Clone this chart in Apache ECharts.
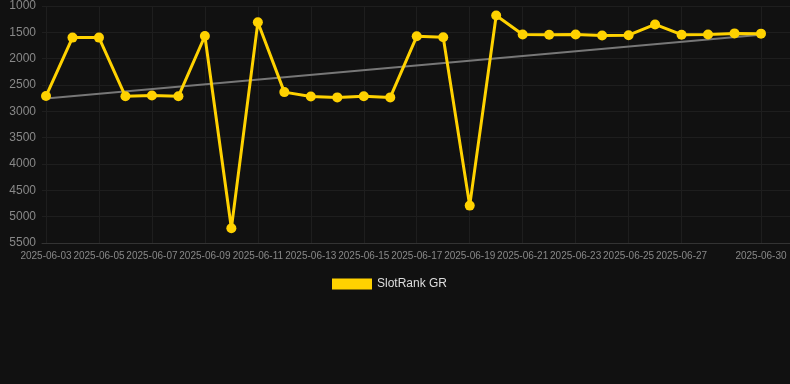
<!DOCTYPE html>
<html>
<head>
<meta charset="utf-8">
<style>
html,body{margin:0;padding:0;background:#111111;}
#chart{width:790px;height:384px;}
</style>
<script src="https://cdn.jsdelivr.net/npm/echarts@6/dist/echarts.min.js"></script>
</head>
<body>
<div id="chart"></div>
<script>
const categories = ['2025-06-03','2025-06-04','2025-06-05','2025-06-06','2025-06-07','2025-06-08','2025-06-09','2025-06-10','2025-06-11','2025-06-12','2025-06-13','2025-06-14','2025-06-15','2025-06-16','2025-06-17','2025-06-18','2025-06-19','2025-06-20','2025-06-21','2025-06-22','2025-06-23','2025-06-24','2025-06-25','2025-06-26','2025-06-27','2025-06-28','2025-06-29','2025-06-30'];
const rankValues = [2710,1600,1600,2715,2700,2715,1570,5220,1310,2635,2720,2735,2715,2735,1575,1595,4790,1180,1540,1545,1540,1560,1555,1350,1545,1540,1520,1525];
const trendDates = ['2025-06-03','2025-06-30'];
const trendValues = [2755,1545];
const xTickLabels = ['2025-06-03','2025-06-05','2025-06-07','2025-06-09','2025-06-11','2025-06-13','2025-06-15','2025-06-17','2025-06-19','2025-06-21','2025-06-23','2025-06-25','2025-06-27','2025-06-30'];
const yTicks = [1000,1500,2000,2500,3000,3500,4000,4500,5000,5500];

const labelSet = new Set(xTickLabels);
const showTick = function(idx, val){ return labelSet.has(val); };
const font = 'Arial, "Liberation Sans", sans-serif';

const chart = echarts.init(document.getElementById('chart'), null, {renderer:'canvas'});
chart.setOption({
  backgroundColor:'#111111',
  animation:false,
  grid:[
    {left:46,right:29,top:6,bottom:141,containLabel:false},
    {left:42,right:0,top:6,bottom:141,containLabel:false}
  ],
  legend:{
    data:['SlotRank GR'],
    left:327, top:273,
    itemWidth:40, itemHeight:11,
    itemGap:10,
    icon:'rect',
    textStyle:{color:'#dddddd',fontSize:12,fontFamily:font}
  },
  xAxis:[
    {
      type:'category',
      gridIndex:0,
      data:categories,
      boundaryGap:false,
      axisLine:{show:false},
      axisTick:{show:false, interval:showTick},
      splitLine:{show:true, interval:showTick, lineStyle:{color:'#1e1e1e',width:1}},
      axisLabel:{
        interval:showTick,
        color:'#888888', fontSize:10, margin:8, hideOverlap:false,
        fontFamily:font
      }
    },
    {
      type:'value', gridIndex:1, min:0, max:1,
      axisLine:{show:true,onZero:false,lineStyle:{color:'#333333'}},
      axisTick:{show:false}, axisLabel:{show:false}, splitLine:{show:false}
    }
  ],
  yAxis:[
    {
      type:'value', gridIndex:0,
      inverse:true,
      min:yTicks[0], max:yTicks[yTicks.length-1], interval:500,
      axisLine:{show:false},
      axisTick:{show:false},
      splitLine:{show:false},
      axisLabel:{color:'#888888',fontSize:12,margin:10,fontFamily:font,
        formatter:function(v){ return String(v); }}
    },
    {
      type:'value', gridIndex:1,
      inverse:true,
      min:yTicks[0], max:yTicks[yTicks.length-1], interval:500,
      axisLine:{show:false}, axisTick:{show:false}, axisLabel:{show:false},
      splitLine:{show:true,lineStyle:{color:'#1e1e1e',width:1}}
    }
  ],
  series:[
    {
      name:'trend',
      type:'line',
      xAxisIndex:0, yAxisIndex:0,
      data:trendDates.map((d,i)=>[d,trendValues[i]]),
      symbol:'none',
      lineStyle:{color:'#777777',width:2},
      z:3,
      silent:true
    },
    {
      name:'SlotRank GR',
      type:'line',
      xAxisIndex:0, yAxisIndex:0,
      data:rankValues,
      symbol:'circle',
      symbolSize:10,
      itemStyle:{color:'#ffd200'},
      lineStyle:{color:'#ffd200',width:3},
      z:4
    }
  ]
});
</script>
</body>
</html>
